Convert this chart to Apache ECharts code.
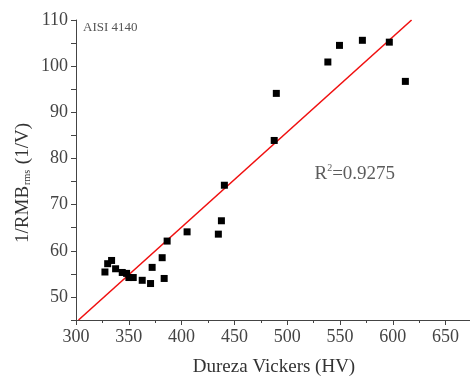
<!DOCTYPE html>
<html><head><meta charset="utf-8">
<script src="https://cdn.jsdelivr.net/npm/echarts@6/dist/echarts.min.js"></script>
<style>html,body{margin:0;padding:0;background:#fff}#c{width:470px;height:378px}</style>
</head><body><div id="c"></div>
<script>
const hardness = [327.4,330,333.7,337.5,343.8,347.9,350.1,354.2,362.7,370.6,372.1,381.6,383.5,386.3,405.2,434.8,437.7,440.5,487.7,489.7,538.5,549.5,571.2,596.7,611.9];
const invRmb = [55.4,57.2,57.9,56.1,55.3,55.1,54.2,54.2,53.6,52.9,56.4,58.5,54.0,62.1,64.1,63.6,66.5,74.2,83.9,94.1,100.9,104.5,105.6,105.2,96.7];
const fitX = [302.4, 617.8];
const fitY = [45, 110];
const xTicks = [300,350,400,450,500,550,600,650];
const yTicks = [50,60,70,80,90,100,110];

const chart = echarts.init(document.getElementById('c'), null, {renderer:'canvas'});
const serif = '"Liberation Serif","DejaVu Serif",serif';
const axisCol = '#444';
chart.setOption({
  animation:false,
  grid:{left:76, top:20, width:396, bottom:58, containLabel:false, outerBoundsMode:'none'},
  xAxis:{type:'value', min:300, max:675, interval:50,
    axisLine:{onZero:false, lineStyle:{color:axisCol,width:1}},
    axisTick:{show:true, inside:false, length:5, lineStyle:{color:axisCol}},
    minorTick:{show:true, splitNumber:2, length:3, lineStyle:{color:axisCol}},
    splitLine:{show:false},
    axisLabel:{fontFamily:serif, fontSize:18, color:'#444', margin:8,
      formatter:v=> xTicks.includes(v)? String(v):''},
    name:'Dureza Vickers (HV)', nameLocation:'middle', nameGap:38,
    nameTextStyle:{fontFamily:serif, fontSize:19, color:'#333'}
  },
  yAxis:{type:'value', min:45, max:110, interval:5,
    axisLine:{onZero:false, lineStyle:{color:axisCol,width:1}},
    axisTick:{show:true, inside:false, length:5, lineStyle:{color:axisCol}},
    splitLine:{show:false},
    axisLabel:{fontFamily:serif, fontSize:18, color:'#444', margin:8,
      formatter:v=> yTicks.includes(v)? String(v):''}
  },
  graphic:[
    {type:'text', left:83, top:21, style:{text:'AISI 4140', font:'13px '+serif, fill:'#555'}},
    {type:'text', x:23, y:183, rotation:Math.PI/2,
      style:{text:'{a|1/RMB}{s|rms}{a| (1/V)}', textAlign:'center', textVerticalAlign:'middle',
        rich:{a:{fontFamily:serif, fontSize:19, fill:'#333', color:'#333'},
              s:{fontFamily:serif, fontSize:10, fill:'#333', color:'#333', padding:[9,1,0,1]}}}}
  ],
  series:[
    {type:'scatter', data:hardness.map((x,i)=>[x,invRmb[i]]), symbol:'rect', symbolSize:7,
      itemStyle:{color:'#000', opacity:1}, z:3},
    {type:'line', data:fitX.map((x,i)=>[x,fitY[i]]), symbol:'none',
      lineStyle:{color:'#f01010', width:1.6}, z:2},
    {type:'scatter', data:[[564, 76.7]], symbolSize:0, silent:true,
      label:{show:true, position:'inside', formatter:'{a|R}{s|2}{a|=0.9275}',
        rich:{a:{fontFamily:serif, fontSize:19, color:'#333'},
              s:{fontFamily:serif, fontSize:10, color:'#333', padding:[0,0,10,0]}}}}
  ]
});
</script></body></html>
